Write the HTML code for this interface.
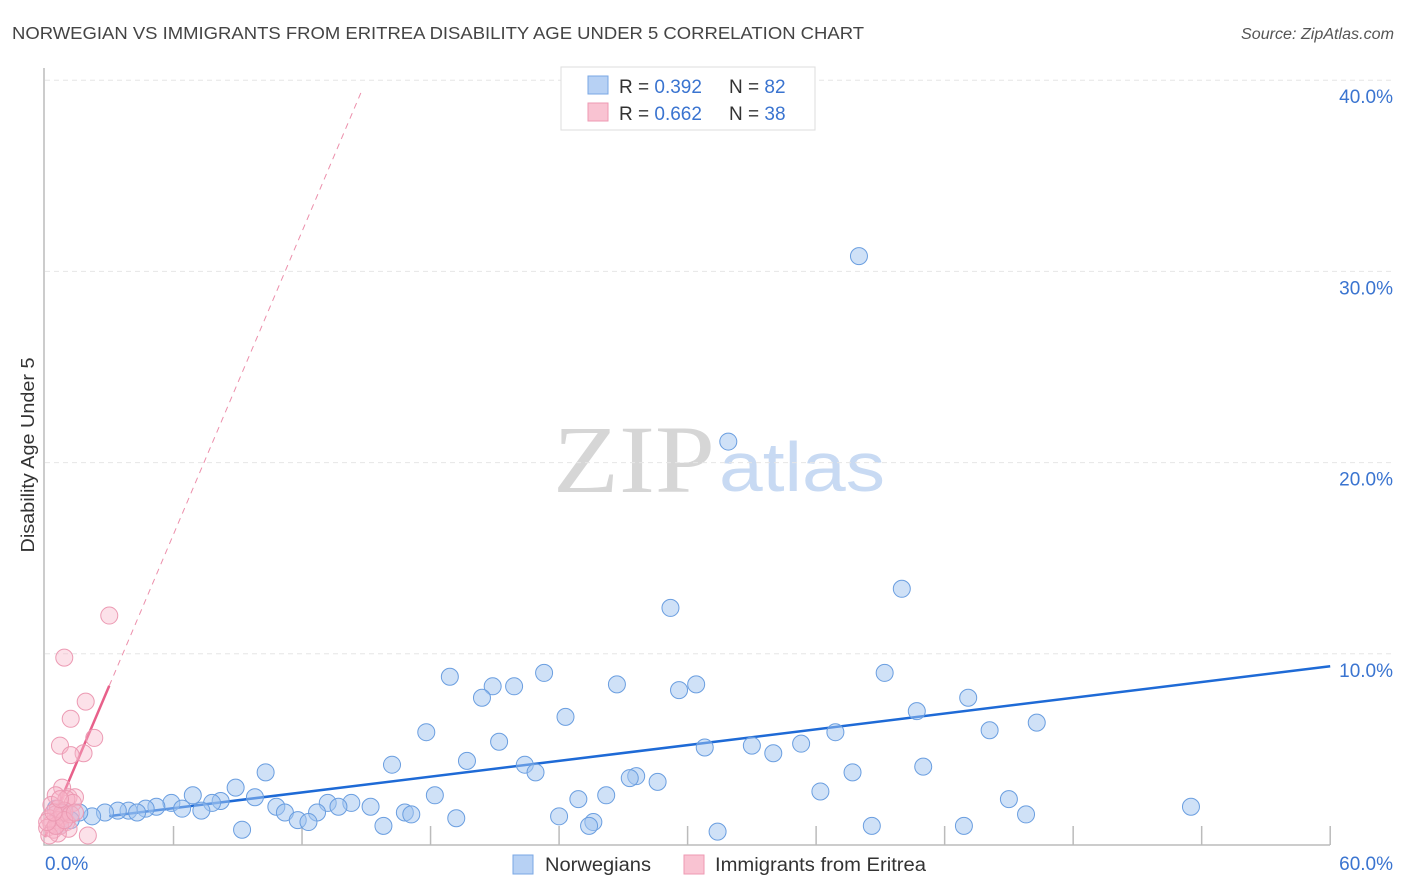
<!DOCTYPE html>
<html><head><meta charset="utf-8">
<style>
body{margin:0;background:#fff;width:1406px;height:892px;overflow:hidden;font-family:"Liberation Sans",sans-serif;}
</style></head>
<body>
<svg id="chart" width="1406" height="892" xmlns="http://www.w3.org/2000/svg" style="position:absolute;left:0;top:0">
<text x="12" y="39" font-size="17.5" fill="#444" textLength="852" lengthAdjust="spacingAndGlyphs">NORWEGIAN VS IMMIGRANTS FROM ERITREA DISABILITY AGE UNDER 5 CORRELATION CHART</text>
<text x="1394" y="39" font-size="15.5" fill="#555" font-style="italic" text-anchor="end" textLength="153" lengthAdjust="spacingAndGlyphs">Source: ZipAtlas.com</text>
<text x="553" y="492" font-size="96" fill="#d6d6d6" font-family="Liberation Serif,serif" textLength="162" lengthAdjust="spacingAndGlyphs">ZIP</text>
<text x="719" y="491" font-size="70" fill="#c8daf3" textLength="166" lengthAdjust="spacingAndGlyphs">atlas</text>
<text transform="translate(34,455) rotate(-90)" font-size="18" fill="#333" text-anchor="middle" textLength="195" lengthAdjust="spacingAndGlyphs">Disability Age Under 5</text>
<g id="grid"></g>
<g id="axes"></g>
<g id="lines"></g>
<g id="pts"></g>
<g>
<rect x="561" y="67" width="254" height="63" fill="#fff" stroke="#ddd"/>
<rect x="588" y="76" width="20" height="18" fill="#b7d1f4" stroke="#7aa7e4"/>
<rect x="588" y="103" width="20" height="18" fill="#f9c3d2" stroke="#ee9ab3"/>
<text x="619" y="93" font-size="19" fill="#333">R = <tspan fill="#3a74d0">0.392</tspan></text>
<text x="729" y="93" font-size="19" fill="#333">N = <tspan fill="#3a74d0">82</tspan></text>
<text x="619" y="120" font-size="19" fill="#333">R = <tspan fill="#3a74d0">0.662</tspan></text>
<text x="729" y="120" font-size="19" fill="#333">N = <tspan fill="#3a74d0">38</tspan></text>
</g>
<g>
<rect x="513" y="855" width="20" height="19" fill="#b7d1f4" stroke="#7aa7e4"/>
<text x="545" y="871" font-size="19" fill="#333" textLength="106" lengthAdjust="spacingAndGlyphs">Norwegians</text>
<rect x="684" y="855" width="20" height="19" fill="#f9c3d2" stroke="#ee9ab3"/>
<text x="715" y="871" font-size="19" fill="#333" textLength="211" lengthAdjust="spacingAndGlyphs">Immigrants from Eritrea</text>
</g>
</svg>
<script>
const blueX=[38.0,31.9,40.0,29.2,39.2,23.3,18.9,26.7,21.9,20.9,30.4,29.6,20.4,43.1,40.7,24.3,46.3,44.1,17.8,36.9,21.2,35.3,33.0,30.8,34.0,19.7,16.2,41.0,22.4,10.3,22.9,37.7,27.6,27.3,28.6,8.9,36.2,6.9,18.2,26.2,24.9,45.0,9.8,8.2,7.8,5.9,13.2,14.3,53.5,5.2,4.7,10.8,13.7,15.2,6.4,3.9,3.4,4.3,7.3,11.2,12.7,2.8,16.8,17.1,2.2,1.6,24.0,45.8,19.2,11.8,12.3,25.6,25.4,15.8,38.6,42.9,9.2,31.4,0.9,0.5,1.2,0.7];
const blueY=[30.8,21.1,13.4,12.4,9.0,9.0,8.8,8.4,8.3,8.3,8.4,8.1,7.7,7.7,7.0,6.7,6.4,6.0,5.9,5.9,5.4,5.3,5.2,5.1,4.8,4.4,4.2,4.1,4.2,3.8,3.8,3.8,3.6,3.5,3.3,3.0,2.8,2.6,2.6,2.6,2.4,2.4,2.5,2.3,2.2,2.2,2.2,2.2,2.0,2.0,1.9,2.0,2.0,2.0,1.9,1.8,1.8,1.7,1.8,1.7,1.7,1.7,1.7,1.6,1.5,1.7,1.5,1.6,1.4,1.3,1.2,1.2,1.0,1.0,1.0,1.0,0.8,0.7,1.7,1.9,1.3,1.0];
const pinkX=[3.0,0.9,1.9,1.2,2.3,0.7,1.8,1.2,0.8,0.5,1.1,1.4,1.0,1.3,0.3,0.6,0.9,0.5,0.8,0.2,0.6,1.0,0.3,0.7,0.1,0.4,1.1,2.0,0.6,0.2,0.8,1.2,0.5,0.9,1.4,0.1,0.4,0.7];
const pinkY=[12.0,9.8,7.5,6.6,5.6,5.2,4.8,4.7,3.0,2.6,2.5,2.5,2.4,2.2,2.1,1.9,1.8,1.6,1.5,1.4,1.3,1.2,1.1,1.0,0.9,0.8,0.85,0.5,0.6,0.5,1.7,1.6,1.0,1.3,1.7,1.2,1.7,2.4];
const yTicks=[10,20,30,40];
const yTickLabels=["10.0%","20.0%","30.0%","40.0%"];
const xTickLabels=["0.0%","60.0%"];
const blueTrend=[1.1,0.1375];
const pinkTrend=[0.41,2.64];
const NS="http://www.w3.org/2000/svg";
const sx=v=>45+v*21.42, sy=v=>845-v*19.12;
function mk(t,a,p){const e=document.createElementNS(NS,t);for(const k in a)e.setAttribute(k,a[k]);p.appendChild(e);return e;}
const grid=document.getElementById('grid'),axes=document.getElementById('axes'),lines=document.getElementById('lines'),pts=document.getElementById('pts');
yTicks.forEach((t,i)=>{
 const l=mk('line',{x1:45,x2:1393,y1:sy(t),y2:sy(t),stroke:'#e6e6e6','stroke-dasharray':'5,4'},grid);
 
 
 const tx=mk('text',{x:1393,y:sy(t)+23,'font-size':19,fill:'#3a74d0','text-anchor':'end'},axes);
 tx.textContent=yTickLabels[i];
 
 
});
const ax=mk('path',{d:'M44 68 V845 H1330',fill:'none',stroke:'#bbb','stroke-width':1.5},axes);


for(let i=1;i<=10;i++){
 const t=mk('line',{x1:sx(i*6),x2:sx(i*6),y1:826,y2:845,stroke:'#bbb','stroke-width':1.5},axes);
 
 
}
[[0,'start',45],[60,'end',1393]].forEach((d,i)=>{
 const tx=mk('text',{x:d[2],y:870,'font-size':19,fill:'#3a74d0','text-anchor':d[1]},axes);
 tx.textContent=xTickLabels[i];
 
 
});
const pl=x=>pinkTrend[0]+pinkTrend[1]*x, bl=x=>blueTrend[0]+blueTrend[1]*x;
let e=mk('line',{x1:sx(3),y1:sy(pl(3)),x2:sx(14.8),y2:sy(pl(14.8)),stroke:'#ec8fab','stroke-width':1,'stroke-dasharray':'6,5'},lines);


e=mk('line',{x1:sx(0),y1:sy(pl(0)),x2:sx(3),y2:sy(pl(3)),stroke:'#e8608a','stroke-width':2.5},lines);


e=mk('line',{x1:sx(3),y1:sy(bl(3)),x2:sx(60),y2:sy(bl(60)),stroke:'#1e6ad6','stroke-width':2.5},lines);


blueX.forEach((x,i)=>{
 const c=mk('circle',{cx:sx(x),cy:sy(blueY[i]),r:8.5,fill:'rgba(160,196,240,0.5)',stroke:'#6a9ee0','stroke-width':1},pts);
 
 
});
pinkX.forEach((x,i)=>{
 const c=mk('circle',{cx:sx(x),cy:sy(pinkY[i]),r:8.5,fill:'rgba(248,180,200,0.4)',stroke:'#ec9ab3','stroke-width':1},pts);
 
 
});
</script>
</body></html>
